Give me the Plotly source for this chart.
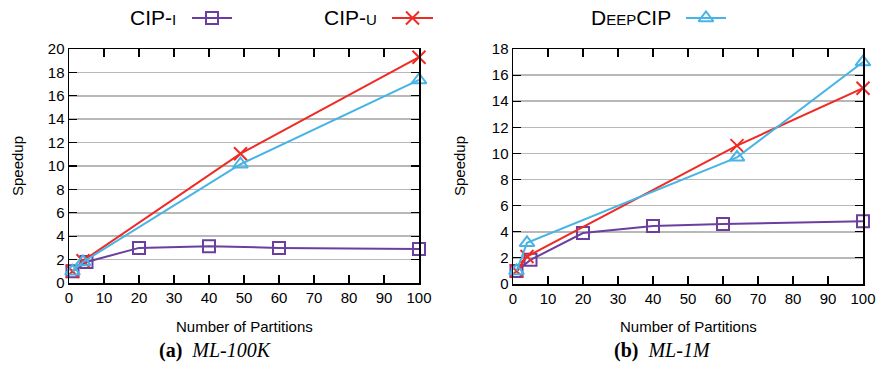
import plotly.graph_objects as go

W, H = 879, 377

# ---- data ----
xticks = [0, 10, 20, 30, 40, 50, 60, 70, 80, 90, 100]

a_x_cipi = [1, 5, 20, 40, 60, 100]
a_cipi = [1.0, 1.8, 3.0, 3.15, 3.0, 2.9]
a_x_cipu = [1, 4, 49, 100]
a_cipu = [1.0, 1.9, 11.05, 19.3]
a_x_deep = [1, 4, 49, 100]
a_deep = [1.0, 1.8, 10.15, 17.35]
a_yticks = [0, 2, 4, 6, 8, 10, 12, 14, 16, 18, 20]

b_x_cipi = [1, 5, 20, 40, 60, 100]
b_cipi = [1.0, 1.85, 3.9, 4.45, 4.6, 4.8]
b_x_cipu = [1, 4, 64, 100]
b_cipu = [1.0, 2.1, 10.6, 15.0]
b_x_deep = [1, 4, 64, 100]
b_deep = [1.0, 3.15, 9.7, 17.0]
b_yticks = [0, 2, 4, 6, 8, 10, 12, 14, 16, 18]

colors = {"CIP-I": "#6b3fa0", "CIP-U": "#ee2b24", "DeepCIP": "#48b4e6"}
symbols = {"CIP-I": "square-open", "CIP-U": "x-thin-open", "DeepCIP": "triangle-up-open"}
msizes = {"CIP-I": 12, "CIP-U": 13, "DeepCIP": 13}

SANS = "Liberation Sans, Arial, Helvetica, sans-serif"
SERIF = "Liberation Serif, Times New Roman, serif"

def px_x(p):
    return p / W

def px_y(p):
    return 1 - p / H

fig = go.Figure()

panels = [
    ("x", "y", [(a_x_cipi, a_cipi, "CIP-I"), (a_x_cipu, a_cipu, "CIP-U"), (a_x_deep, a_deep, "DeepCIP")]),
    ("x2", "y2", [(b_x_cipi, b_cipi, "CIP-I"), (b_x_cipu, b_cipu, "CIP-U"), (b_x_deep, b_deep, "DeepCIP")]),
]
for xa, ya, sers in panels:
    for xs, ys, name in sers:
        fig.add_trace(go.Scatter(
            x=xs, y=ys, xaxis=xa, yaxis=ya, mode="lines+markers", name=name,
            showlegend=False, cliponaxis=False,
            line=dict(color=colors[name], width=2),
            marker=dict(symbol=symbols[name], size=msizes[name], color=colors[name],
                        line=dict(color=colors[name], width=2)),
        ))

# legend samples on an overlay axis in pixel units
legend_items = [
    ("CIP-I", 192, 232),
    ("CIP-U", 392, 433),
    ("DeepCIP", 686, 726),
]
for name, x0, x1 in legend_items:
    fig.add_trace(go.Scatter(
        x=[x0, x1], y=[18, 18], xaxis="x3", yaxis="y3", mode="lines",
        showlegend=False, hoverinfo="skip", line=dict(color=colors[name], width=2)))
    fig.add_trace(go.Scatter(
        x=[(x0 + x1) / 2], y=[18], xaxis="x3", yaxis="y3", mode="markers",
        showlegend=False, hoverinfo="skip", cliponaxis=False,
        marker=dict(symbol=symbols[name], size=msizes[name], color=colors[name],
                    line=dict(color=colors[name], width=2))))

common_x = dict(range=[0, 100], tickvals=xticks, ticks="inside", ticklen=8, tickwidth=1.2,
                tickcolor="black", showline=True, linecolor="black", linewidth=1.5,
                mirror="ticks", showgrid=False, zeroline=False,
                tickfont=dict(family=SANS, size=15, color="black"))
common_y = dict(ticks="inside", ticklen=8, tickwidth=1.2, tickcolor="black",
                showline=True, linecolor="black", linewidth=1.5, mirror="ticks",
                showgrid=True, gridcolor="#b8b8b8", gridwidth=1.5, zeroline=False,
                tickfont=dict(family=SANS, size=15, color="black"))

fig.update_layout(
    width=W, height=H, margin=dict(l=0, r=0, t=0, b=0, autoexpand=False),
    paper_bgcolor="white", plot_bgcolor="rgba(0,0,0,0)",
    xaxis=dict(domain=[px_x(69), px_x(419)], anchor="y", **common_x),
    yaxis=dict(domain=[px_y(283), px_y(49)], anchor="x", range=[0, 20], tickvals=a_yticks, **common_y),
    xaxis2=dict(domain=[px_x(513), px_x(863)], anchor="y2", **common_x),
    yaxis2=dict(domain=[px_y(284), px_y(49)], anchor="x2", range=[0, 18], tickvals=b_yticks, **common_y),
    xaxis3=dict(domain=[0, 1], range=[0, W], visible=False, anchor="y3"),
    yaxis3=dict(domain=[0, 1], range=[H, 0], visible=False, anchor="x3"),
)

ann = []
leg_texts = [
    ("CIP-<span style='font-size:15px'>I</span>", 178),
    ("CIP-<span style='font-size:15px'>U</span>", 379),
    ("D<span style='font-size:15px'>EEP</span>CIP", 673),
]
for t, xr in leg_texts:
    ann.append(dict(text=t, x=px_x(xr), y=px_y(18), xref="paper", yref="paper",
                    xanchor="right", yanchor="middle", showarrow=False,
                    font=dict(family=SANS, size=21, color="black")))
for xc in (17, 459):
    ann.append(dict(text="Speedup", x=px_x(xc), y=px_y(166), xref="paper", yref="paper",
                    textangle=-90, xanchor="center", yanchor="middle", showarrow=False,
                    font=dict(family=SANS, size=15, color="black")))
for xc in (244, 688):
    ann.append(dict(text="Number of Partitions", x=px_x(xc), y=px_y(326), xref="paper", yref="paper",
                    xanchor="center", yanchor="middle", showarrow=False,
                    font=dict(family=SANS, size=15, color="black")))
for t, xc in (("<b>(a)</b>  <i>ML-100K</i>", 215), ("<b>(b)</b>  <i>ML-1M</i>", 662)):
    ann.append(dict(text=t, x=px_x(xc), y=px_y(350), xref="paper", yref="paper",
                    xanchor="center", yanchor="middle", showarrow=False,
                    font=dict(family=SERIF, size=20, color="black")))
fig.update_layout(annotations=ann)

fig.write_html("out.html", config={"displayModeBar": False, "staticPlot": True},
               post_script="document.body.style.margin='0';document.body.style.padding='0';document.body.style.overflow='hidden';")
